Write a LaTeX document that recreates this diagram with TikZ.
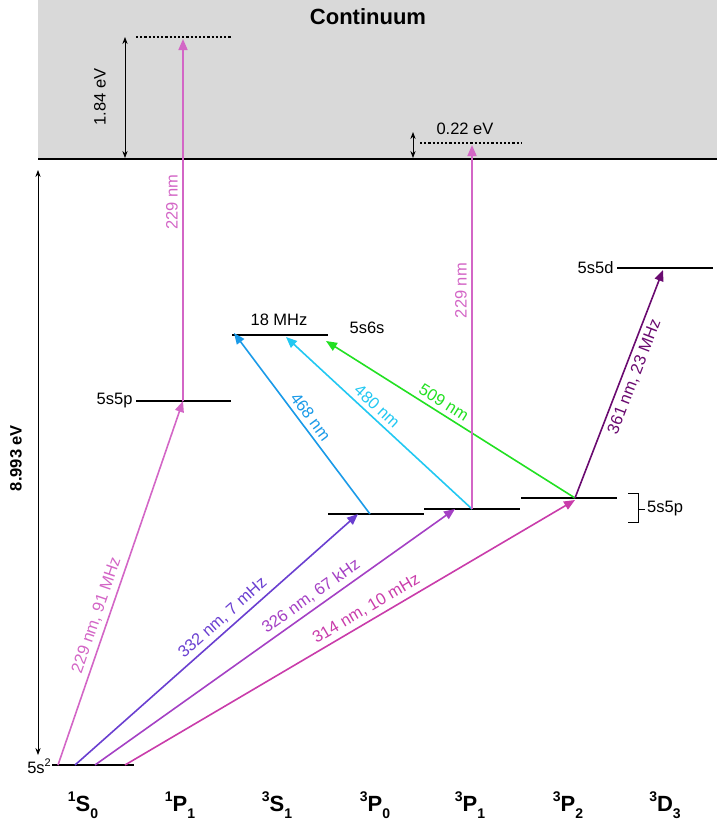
\documentclass[tikz,border=0pt]{standalone}
\usepackage{fontspec}
\setmainfont{Liberation Sans}
\usetikzlibrary{arrows.meta}
\definecolor{pinkc}{HTML}{D366C6}
\definecolor{violc}{HTML}{6A3FD0}
\definecolor{purpc}{HTML}{A440C4}
\definecolor{magc}{HTML}{C93CAA}
\definecolor{bluec}{HTML}{1A9AE8}
\definecolor{cyanc}{HTML}{22C8F2}
\definecolor{greenc}{HTML}{22E022}
\definecolor{darkc}{HTML}{6A0A70}
\newcommand{\sups}[2]{\raisebox{0.45em}{\fontsize{#1}{#1}\selectfont #2}}
\newcommand{\subs}[2]{\raisebox{-0.3em}{\fontsize{#1}{#1}\selectfont #2}}
\tikzset{
  level/.style={line width=2.2pt},
  virt/.style={line width=2.2pt,dotted},
  trans/.style={line width=1.6pt,-{Triangle[length=11pt,width=9pt]}},
  gap/.style={line width=0.9pt,{Stealth[length=7pt]}-{Stealth[length=7pt]}},
  lbl/.style={font=\fontsize{16.5}{19}\selectfont},
  term/.style={font=\fontsize{22}{26}\selectfont\bfseries}
}
\begin{document}
\begin{tikzpicture}[x=1pt,y=-1pt]
\useasboundingbox (0,0) rectangle (717,831);
% continuum
\fill[gray!30] (38,0) rectangle (717,159);
\node[font=\fontsize{22}{26}\selectfont\bfseries] (cont) at (368,17) {Continuum};
\draw[line width=2.4pt] (38,159) -- (717,159);
% levels
\draw[level] (52,765) coordinate (g0) -- (134,765);
\draw[level] (136,401) -- (231,401);
\draw[level] (232,335) -- (328,335);
\draw[level] (328,514) -- (424,514);
\draw[level] (424,509) -- (520,509);
\draw[level] (521,498) -- (617,498);
\draw[level] (617,268) -- (713,268);
\draw[virt] (136,37) -- (231,37);
\draw[virt] (420,143) -- (522,143);
% level labels
\node[lbl,anchor=east,inner sep=1pt] (lgs) at (52,766) {5s\sups{11}{2}};
\node[lbl,anchor=east] (l1p) at (136,401) {5s5p};
\node[lbl] (l6s) at (367,328) {5s6s};
\node[lbl] (lhf) at (279,320) {18 MHz};
\node[lbl,anchor=east] (l5d) at (617,268) {5s5d};
\node[lbl,anchor=west,inner sep=2pt] (l3p) at (645,509) {5s5p};
\draw[line width=0.7pt] (628,493) -- (638,493) -- (638,522) -- (628,522);
\draw[line width=0.7pt] (638,509) -- (645,509);
% energy gaps
\draw[gap] (38,170) -- (38,755);
\node[font=\fontsize{16.5}{19}\selectfont\bfseries,rotate=90] (lip) at (16,458) {8.993 eV};
\draw[gap] (125,37) -- (125,158);
\node[lbl,rotate=90] (l184) at (100,97) {1.84 eV};
\draw[gap] (413,132) -- (413,158);
\node[lbl] (l022) at (465,129) {0.22 eV};
% coordinates of transitions
\coordinate (a0) at (58,765);  \coordinate (a1) at (183,401);
\coordinate (b0) at (75,765);  \coordinate (b1) at (358,514);
\coordinate (c0) at (95,765);  \coordinate (c1) at (455,509);
\coordinate (d0) at (125,765); \coordinate (d1) at (575,500);
\coordinate (p0) at (370,514); \coordinate (p1) at (472,509); \coordinate (p2) at (575,498);
% transitions
\draw[trans,pinkc] (a0) -- node[lbl,sloped,above=1pt,pos=0.4]{229 nm, 91 MHz} (a1);
\draw[trans,pinkc] (a1) -- node[lbl,sloped,above=1pt,pos=0.55]{229 nm} (183,39);
\draw[trans,violc] (b0) -- node[lbl,sloped,above=1pt,pos=0.55]{332 nm, 7 mHz} (b1);
\draw[trans,purpc] (c0) -- node[lbl,sloped,above=1pt,pos=0.62]{326 nm, 67 kHz} (c1);
\draw[trans,magc] (d0) -- node[lbl,sloped,above=1pt,pos=0.55]{314 nm, 10 mHz} (d1);
\draw[trans,bluec] (p0) -- node[lbl,sloped,above=1pt,pos=0.5]{468 nm} (234,333);
\draw[trans,cyanc] (p1) -- node[lbl,sloped,above=1pt,pos=0.55]{480 nm} (286,337);
\draw[trans,greenc] (p2) -- node[lbl,sloped,above=1pt,pos=0.55]{509 nm} (326,341);
\draw[trans,pinkc] (p1) -- node[lbl,sloped,above=1pt,pos=0.6]{229 nm} (472,145);
\draw[trans,darkc] (p2) -- node[lbl,sloped,below=1pt,pos=0.55]{361 nm, 23 MHz} (663,270);
% terms
\node[term] (t1) at (83,805) {\sups{14}{1}S\subs{14}{0}};
\node[term] (t2) at (180,805) {\sups{14}{1}P\subs{14}{1}};
\node[term] (t3) at (277,805) {\sups{14}{3}S\subs{14}{1}};
\node[term] (t4) at (375,805) {\sups{14}{3}P\subs{14}{0}};
\node[term] (t5) at (470,805) {\sups{14}{3}P\subs{14}{1}};
\node[term] (t6) at (568,805) {\sups{14}{3}P\subs{14}{2}};
\node[term] (t7) at (665,805) {\sups{14}{3}D\subs{14}{3}};
\end{tikzpicture}
\end{document}
